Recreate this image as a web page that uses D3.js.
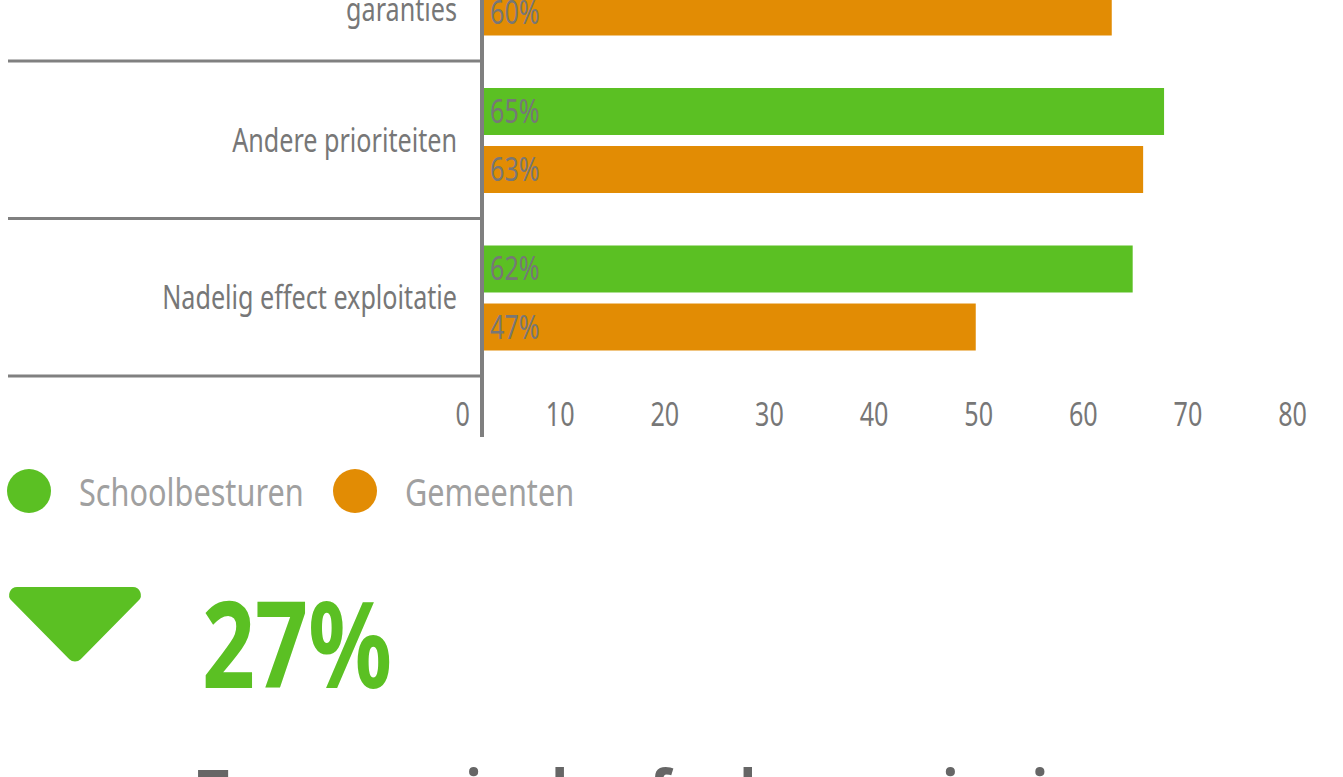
<!DOCTYPE html>
<html><head><meta charset="utf-8">
<script src="https://cdn.jsdelivr.net/npm/d3@7"></script>
<style>
html,body{margin:0;padding:0;background:#fff;overflow:hidden}
svg{display:block}
text{font-family:"Noto Sans","Open Sans",sans-serif}
</style></head>
<body>
<svg id="c" width="1343" height="777"></svg>
<script>
// ---- data ----
const categories = ["Onvoldoende financiële\ngaranties", "Andere prioriteiten", "Nadelig effect exploitatie"];
const series = ["Schoolbesturen", "Gemeenten"];
const schoolbesturen = [64, 65, 62];
const gemeenten = [60, 63, 47];
const tickValues = [0, 10, 20, 30, 40, 50, 60, 70, 80];
const bigNumber = "27%";
const bottomText = "Toename in de afgelopen vier jaar";

const colors = {Schoolbesturen: "#5bc023", Gemeenten: "#e28c04"};
const values = {Schoolbesturen: schoolbesturen, Gemeenten: gemeenten};

const svg = d3.select("#c");

// narrow-font emulation: measure a reference string and derive a horizontal squeeze
function measure(str, size, weight) {
  const t = svg.append("text").attr("font-size", size).attr("font-weight", weight || "normal").text(str);
  const w = t.node().getComputedTextLength();
  t.remove();
  return w;
}
const F = 225 / measure("Andere prioriteiten", 32);
const FB = 190 / measure("27%", 120, "bold");
const FT = 943 / measure(bottomText, 62, "bold");

function ntext(parent, x, y, str, opts) {
  const f = opts.f || F;
  const t = parent.append("text")
    .attr("transform", `translate(${x},${y}) scale(${f},1)`)
    .attr("x", 0).attr("y", 0)
    .attr("font-size", opts.size)
    .attr("fill", opts.fill)
    .attr("text-anchor", opts.anchor || "start")
    .attr("font-weight", opts.weight || "normal")
    .text(str);
  return t;
}

const x = d3.scaleLinear().domain([0, 80]).range([484, 1321]);
const y = d3.scaleBand().domain(categories).range([-96.5, 376]).padding(0);
const ys = d3.scaleBand().domain(series).range([27, 132]).paddingInner(0.19);

// separators
const bounds = categories.map(c => y(c) + y.step());
svg.selectAll("line.sep").data(bounds).join("line")
  .attr("x1", 8).attr("x2", 480).attr("y1", d => d).attr("y2", d => d)
  .attr("stroke", "#808080").attr("stroke-width", 3);

// bars
const g = svg.append("g");
categories.forEach((c, ci) => {
  series.forEach(s => {
    const v = values[s][ci];
    const top = y(c) + ys(s);
    g.append("rect").attr("x", x(0)).attr("y", top)
      .attr("width", x(v) - x(0)).attr("height", ys.bandwidth())
      .attr("fill", colors[s]);
    ntext(g, x(0) + 6, top + ys.bandwidth() / 2 + 11.5, v + "%", {size: 32, fill: "#777"});
  });
  // category label
  const lines = c.split("\n");
  const cy = y(c) + y.bandwidth() / 2 + 12;
  const lh = 53;
  lines.forEach((ln, i) => {
    ntext(svg, 457, cy + (i - (lines.length - 1) / 2) * lh, ln, {size: 32, fill: "#777", anchor: "end"});
  });
});

// axis line
svg.append("line").attr("x1", 482).attr("x2", 482).attr("y1", 0).attr("y2", 437)
  .attr("stroke", "#7f7f7f").attr("stroke-width", 4);

// tick labels
tickValues.forEach(d => {
  ntext(svg, x(d) - 14, 426, d, {size: 32, fill: "#777", anchor: "end"});
});

// legend
const legendX = [29, 355];
series.forEach((s, i) => {
  svg.append("circle").attr("cx", legendX[i]).attr("cy", 491).attr("r", 22).attr("fill", colors[s]);
  ntext(svg, legendX[i] + 50, 506, s, {size: 39, fill: "#a0a0a0"});
});

// triangle with rounded corners
const tri = [[-2, 587], [152, 587], [75, 665]];
const r = 8;
const p = d3.path();
const mid = [(tri[0][0] + tri[1][0]) / 2, tri[0][1]];
p.moveTo(mid[0], mid[1]);
[1, 2, 0].forEach(k => {
  const nxt = tri[(k + 1) % 3];
  p.arcTo(tri[k][0], tri[k][1], nxt[0], nxt[1], r);
});
p.closePath();
svg.append("path").attr("d", p.toString()).attr("fill", "#5bc023");

ntext(svg, 202, 688, bigNumber, {size: 120, fill: "#5bc023", weight: "bold", f: FB});

ntext(svg, 197, 815, bottomText, {size: 62, fill: "#666", weight: "bold", f: FT});
</script>
</body></html>
